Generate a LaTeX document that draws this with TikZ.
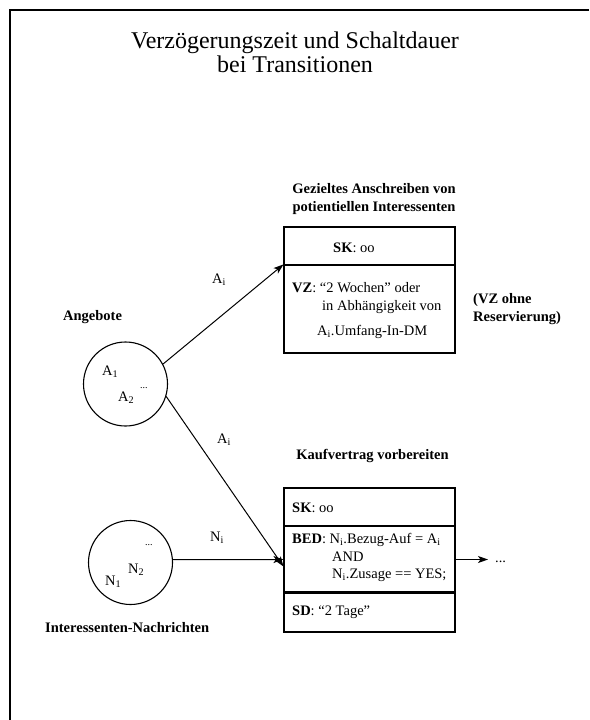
\documentclass[tikz,border=0pt]{standalone}
\usepackage{fontspec}
\setmainfont{Liberation Serif}
\usetikzlibrary{arrows.meta}

\begin{document}
\begin{tikzpicture}[x=1pt,y=-1pt,
  txt/.style={inner sep=0pt,anchor=west,font=\fontsize{14.5}{17.5}\selectfont},
  head/.style={inner sep=0pt,font=\fontsize{14.5}{18}\selectfont\bfseries},
  place/.style={draw,circle,line width=1.1pt,minimum size=84pt,inner sep=0pt},
  section/.style={draw,line width=1.1pt,minimum width=171pt,inner sep=0pt},
  flow/.style={line width=1pt,-{Stealth[length=10pt,width=7pt,inset=2.5pt]}},
  frameline/.style={line width=2pt}]
\useasboundingbox (0,0) rectangle (589,720);

% outer frame
\coordinate (fr1) at (589,10);
\coordinate (fr2) at (10,10);
\coordinate (fr3) at (10,720);
\draw[frameline] (fr1) -- (fr2) -- (fr3);

% title
\node[inner sep=0pt,align=center,font=\fontsize{24}{24}\selectfont] (title) at (295,52)
  {Verzögerungszeit und Schaltdauer\\bei Transitionen};

% places
\node[place] (angebote) at (125.5,384) {};
\node[place] (nachrichten) at (130.5,562.5) {};
\node[txt,font=\fontsize{14.5}{17}\selectfont\bfseries] (lbl-ang) at (63,317) {Angebote};
\node[txt,font=\fontsize{14.5}{17}\selectfont\bfseries] (lbl-nach) at (45,628) {Interessenten-Nachrichten};
\node[txt] (a1) at (102,372) {A\textsubscript{1}};
\node[txt] (adots) at (140,388) {\fontsize{10}{12}\selectfont...};
\node[txt] (a2) at (118,398) {A\textsubscript{2}};
\node[txt] (ndots) at (145,545) {\fontsize{10}{12}\selectfont...};
\node[txt] (n2) at (128,570) {N\textsubscript{2}};
\node[txt] (n1) at (105,582) {N\textsubscript{1}};

% transition 1
\node[head,align=center] (head1) at (374,199)
  {Gezieltes Anschreiben von\\potientiellen Interessenten};
\node[section,minimum height=38pt] (t1sk) at (369.5,246) {};
\node[section,minimum height=88pt] (t1vz) at (369.5,309) {};
\node[txt] (t1sktext) at (333,248) {\textbf{SK}: oo};
\node[txt] (t1vz1) at (292,288) {\textbf{VZ}: “2 Wochen” oder};
\node[txt] (t1vz2) at (322,307) {in Abhängigkeit von};
\node[txt] (t1vz3) at (317,332) {A\textsubscript{i}.Umfang-In-DM};
\node[txt,align=left,font=\fontsize{14.5}{18}\selectfont\bfseries] (note) at (473,309)
  {(VZ ohne\\Reservierung)};

% transition 2
\node[head] (head2) at (372.5,456) {Kaufvertrag vorbereiten};
\node[section,minimum height=38pt] (t2sk) at (369.5,507) {};
\node[section,minimum height=67pt] (t2bed) at (369.5,559.5) {};
\node[section,minimum height=39pt] (t2sd) at (369.5,612.5) {};
\draw[line width=2.6pt] (t2sd.north west) -- (t2sd.north east);
\node[txt] (t2sktext) at (292,508) {\textbf{SK}: oo};
\node[txt] (t2bed1) at (292,540) {\textbf{BED}: N\textsubscript{i}.Bezug-Auf = A\textsubscript{i}};
\node[txt] (t2bed2) at (332,557) {AND};
\node[txt] (t2bed3) at (332,575) {N\textsubscript{i}.Zusage == YES;};
\node[txt] (t2sdtext) at (292,612) {\textbf{SD}: “2 Tage”};

% connectors
\draw[flow] (angebote.28) -- (t1vz.north west);
\node[txt] (lblA1) at (212,280) {A\textsubscript{i}};
\draw[flow] (angebote.-17) -- ([yshift=-7pt]t2bed.west);
\node[txt] (lblA2) at (217,440) {A\textsubscript{i}};
\draw[flow] (nachrichten.4) -- (t2bed.west);
\node[txt] (lblN) at (210,538) {N\textsubscript{i}};
\coordinate (outend) at (488,559.5);
\draw[flow] (t2bed.east) -- (outend);
\node[txt] (outdots) at (495,562) {...};
\end{tikzpicture}
\end{document}
